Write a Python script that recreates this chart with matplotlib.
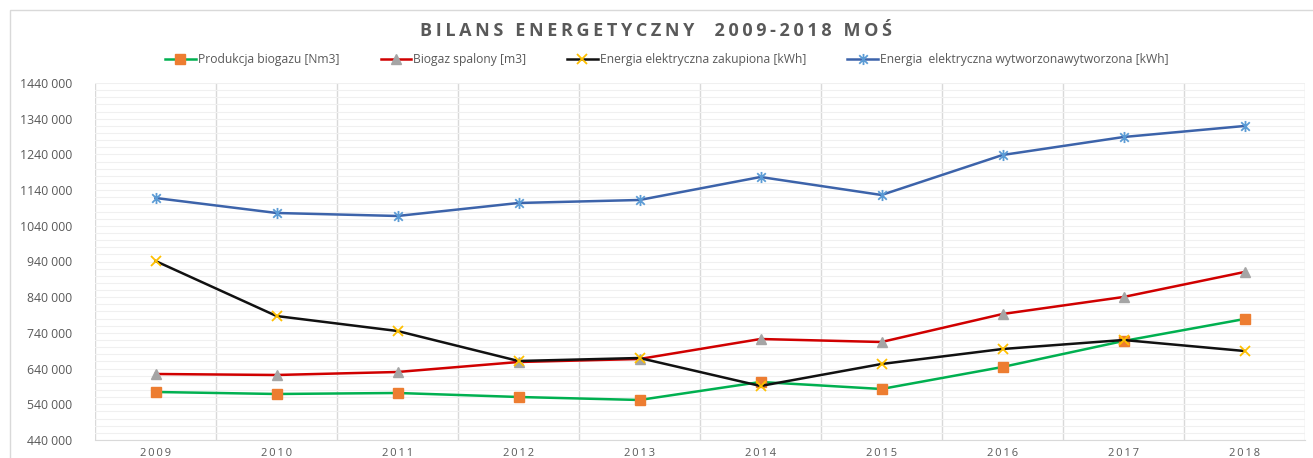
import matplotlib.pyplot as plt
from matplotlib.path import Path
from matplotlib.ticker import FuncFormatter, MultipleLocator
from matplotlib.patches import Rectangle

years = ["2009", "2010", "2011", "2012", "2013", "2014", "2015", "2016", "2017", "2018"]
produkcja = [574500, 568900, 571700, 560500, 552100, 602500, 582900, 644500, 717300, 778900]
spalony = [624900, 622100, 630500, 658500, 666900, 722900, 714500, 792900, 840600, 910600]
zakupiona = [941400, 787300, 745300, 661300, 669700, 591300, 652900, 694900, 720100, 689300]
wytworzona = [1117900, 1075900, 1067500, 1103900, 1112300, 1176700, 1126300, 1238300, 1288700, 1319600]
y_ticks = [440000, 540000, 640000, 740000, 840000, 940000, 1040000, 1140000, 1240000, 1340000, 1440000]

labels = [
    "Produkcja biogazu [Nm3]",
    "Biogaz spalony [m3]",
    "Energia elektryczna zakupiona [kWh]",
    "Energia  elektryczna wytworzonawytworzona [kWh]",
]
title = "BILANS ENERGETYCZNY  2009-2018 MOŚ"

# Excel-style star marker: an x with a vertical bar through it
star = Path(
    [(-1, -1), (1, 1), (-1, 1), (1, -1), (0, -1.3), (0, 1.3)],
    [Path.MOVETO, Path.LINETO, Path.MOVETO, Path.LINETO, Path.MOVETO, Path.LINETO],
)


def fmt(v, pos):
    s = f"{int(round(v)):,}".replace(",", " ")
    if v >= 1000000:
        s = s.replace(" ", "", 1)
    return s


plt.rcParams["font.family"] = ["Open Sans", "DejaVu Sans"]

fig = plt.figure(figsize=(13.13, 4.58), dpi=100)
ax = fig.add_axes([95 / 1313, 1 - 440 / 458, 1210 / 1313, 357 / 458])

fig.patches.append(Rectangle((10 / 1313, -0.1), 1.2, 1.0 - 10 / 458 + 0.1,
                             transform=fig.transFigure, fill=False,
                             edgecolor="#d9d9d9", linewidth=1.0))

x = list(range(len(years)))
ax.plot(x, produkcja, color="#00b050", lw=1.8, marker="s", ms=7,
        mfc="#ed7d31", mec="#ed7d31", label=labels[0], zorder=3)
ax.plot(x, spalony, color="#d00000", lw=1.8, marker="^", ms=7,
        mfc="#a5a5a5", mec="#a5a5a5", label=labels[1], zorder=3)
ax.plot(x, zakupiona, color="#111111", lw=1.8, marker="x", ms=7, mew=1.3,
        mfc="#ffc000", mec="#ffc000", label=labels[2], zorder=3)
ax.plot(x, wytworzona, color="#3c63aa", lw=1.8, marker=star, ms=8, mew=1.3,
        mfc="#5b9bd5", mec="#5b9bd5", label=labels[3], zorder=3)

ax.set_xlim(-0.5, len(years) - 0.5)
ax.set_ylim(440000, 1440000)
ax.set_xticks(x)
ax.set_xticklabels(["\u2009".join(y) for y in years])
ax.set_yticks(y_ticks)
ax.yaxis.set_major_formatter(FuncFormatter(fmt))
ax.yaxis.set_minor_locator(MultipleLocator(20000))

ax.grid(axis="y", which="both", color="#f0f0f0", lw=0.8)
for b in range(len(years) + 1):
    ax.axvline(b - 0.5, color="#d9d9d9", lw=1.0, zorder=1)

for s in ["top", "right", "left"]:
    ax.spines[s].set_visible(False)
ax.spines["bottom"].set_color("#d9d9d9")
ax.tick_params(axis="both", which="both", length=0, colors="#595959", labelsize=8)
ax.tick_params(axis="x", pad=6)
ax.tick_params(axis="y", pad=16.5, labelsize=8.8)

fig.text(0.5, 1 - 31 / 458, "\u2009".join(title),
         ha="center", va="center", fontsize=13, fontweight="bold", color="#595959")

fig.legend(loc="center", bbox_to_anchor=(0.508, 1 - 60 / 458), ncol=4,
           frameon=False, fontsize=8.7, labelcolor="#595959",
           handlelength=2.5, handletextpad=0.2, columnspacing=3.4)

plt.savefig("out.png")
plt.close()
